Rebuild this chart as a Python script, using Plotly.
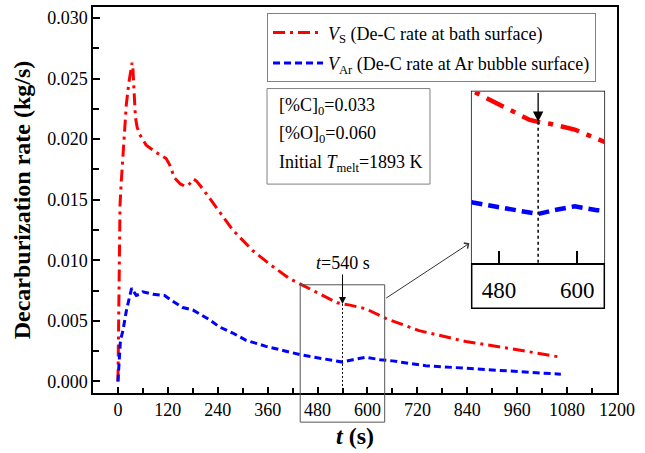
import plotly.graph_objects as go

# Decarburization rate at the bath surface (V_S)
t_s = [0, 1.5, 3, 5, 8, 12, 16, 20, 26, 31, 34, 36, 39, 42, 46, 52, 68, 92, 116, 124,
       136, 150, 162, 172, 182, 190, 208, 240, 276, 324, 364, 412, 440, 480, 510, 527,
       540, 558, 596, 615, 644, 724, 836, 964, 1065]
v_s = [0.0000, 0.0060, 0.0118, 0.0146, 0.0165, 0.0188, 0.0210, 0.0228, 0.0246, 0.0258,
       0.0263, 0.0258, 0.0240, 0.0218, 0.0210, 0.0204, 0.0195, 0.0189, 0.0184, 0.0179,
       0.0168, 0.0163, 0.0161, 0.0163, 0.0167, 0.0165, 0.0157, 0.0142, 0.0125, 0.0108,
       0.0097, 0.0085, 0.0080, 0.0073, 0.0068, 0.0065, 0.0064, 0.0063, 0.0060, 0.0057,
       0.0052, 0.0042, 0.0033, 0.0026, 0.0020]

# Decarburization rate at the Ar bubble surface (V_Ar)
t_ar = [0, 1.5, 3, 6, 12, 20, 28, 33, 38, 44, 52, 60, 84, 112, 128, 156, 180, 196, 220,
        244, 276, 308, 356, 404, 440, 472, 508, 540, 565, 596, 630, 660, 740, 836, 964, 1065]
v_ar = [0.0000, 0.0010, 0.0022, 0.0034, 0.0042, 0.0058, 0.0070, 0.0077, 0.0074, 0.0071,
        0.0072, 0.0074, 0.0072, 0.0071, 0.0067, 0.0061, 0.0059, 0.0056, 0.0051, 0.0045,
        0.0040, 0.0034, 0.0029, 0.0025, 0.0022, 0.0020, 0.0018, 0.0016, 0.0018, 0.0020,
        0.0018, 0.0017, 0.0013, 0.0011, 0.0008, 0.0006]

x_ticks = list(range(0, 1201, 120))
inset_ticks = [480, 600]
t_mark = 540
v_mark = v_s[t_s.index(t_mark)]

XR = [-60, 1200]
YR = [-0.00095, 0.0309]
INSET_XR = [438.2, 641.4]
INSET_YR = [-0.00095, 0.00798]

# Inset placement (paper fractions)
IN_X = [0.7227, 0.9758]
IN_Y_AXIS = [0.3369, 0.781]
IN_BOTTOM = 0.2198

FONT = "Liberation Serif"
RED = "#FF0000"
BLUE = "#0000FF"


def xp(t):
    return (t - XR[0]) / (XR[1] - XR[0])


fig = go.Figure()

fig.add_trace(go.Scatter(
    x=t_s, y=v_s, mode="lines", legendgroup="s",
    name="<i>V</i><sub>S</sub> (De-C rate at bath surface)",
    line=dict(color=RED, width=3, dash="12px,5px,3px,5px"),
))
fig.add_trace(go.Scatter(
    x=t_ar, y=v_ar, mode="lines", legendgroup="ar",
    name="<i>V</i><sub>Ar</sub> (De-C rate at Ar bubble surface)",
    line=dict(color=BLUE, width=3, dash="7px,4px"),
))

# magnified view around t = 540 s
fig.add_trace(go.Scatter(
    x=t_s, y=v_s, mode="lines", xaxis="x2", yaxis="y2", showlegend=False,
    line=dict(color=RED, width=4.5, dash="19px,8px,5px,8px"),
))
fig.add_trace(go.Scatter(
    x=t_ar, y=v_ar, mode="lines", xaxis="x2", yaxis="y2", showlegend=False,
    line=dict(color=BLUE, width=4.5, dash="11px,6px"),
))

axis_common = dict(
    showline=True, linecolor="black", linewidth=1.5, mirror=True,
    showgrid=False, zeroline=False, ticks="inside", tickcolor="black",
    tickwidth=1.5, tickfont=dict(family=FONT, size=18, color="black"),
)

fig.update_layout(
    width=645, height=453,
    margin=dict(l=93, r=28, t=5, b=60),
    paper_bgcolor="white", plot_bgcolor="white",
    font=dict(family=FONT, size=18, color="black"),
    xaxis=dict(
        range=XR, tickvals=x_ticks, ticklen=6,
        minor=dict(dtick=60, tick0=0, ticks="inside", ticklen=5, tickwidth=1.5, tickcolor="black"),
        title=dict(text="<b><i>t</i> (s)</b>", font=dict(family=FONT, size=24), standoff=8),
        **axis_common,
    ),
    yaxis=dict(
        range=YR, tick0=0, dtick=0.005, tickformat=".3f", ticklen=7,
        minor=dict(dtick=0.0025, tick0=0, ticks="inside", ticklen=6, tickwidth=1.5, tickcolor="black"),
        title=dict(text="<b>Decarburization rate (kg/s)</b>", font=dict(family=FONT, size=24), standoff=10),
        **axis_common,
    ),
    xaxis2=dict(
        domain=IN_X, anchor="y2", range=INSET_XR, tickvals=inset_ticks,
        showline=True, linecolor="black", linewidth=1.5, mirror=False,
        showgrid=False, zeroline=False, ticks="inside", ticklen=12, tickwidth=1.5,
        tickcolor="black", tickfont=dict(family=FONT, size=23, color="black"),
        ticklabelstandoff=6,
    ),
    yaxis2=dict(
        domain=IN_Y_AXIS, anchor="x2", range=INSET_YR, visible=False,
    ),
    legend=dict(
        x=0.3321, y=0.9835, xanchor="left", yanchor="top",
        bordercolor="#808080", borderwidth=1, bgcolor="white",
        itemwidth=50, tracegroupgap=4,
        font=dict(family=FONT, size=18, color="black"),
    ),
)

shapes = [
    # inset frame
    dict(type="rect", xref="paper", yref="paper", x0=IN_X[0], x1=IN_X[1],
         y0=IN_BOTTOM, y1=IN_Y_AXIS[1], line=dict(color="black", width=1.5),
         fillcolor="white", layer="below"),
    # zoom window on the main axes
    dict(type="rect", xref="paper", yref="paper",
         x0=xp(INSET_XR[0]), x1=xp(INSET_XR[1]),
         y0=-0.0755, y1=(INSET_YR[1] - YR[0]) / (YR[1] - YR[0]),
         line=dict(color="#555555", width=1)),
    # initial conditions box
    dict(type="rect", xref="paper", yref="paper", x0=0.3321, x1=0.6431,
         y0=0.5412, y1=0.7887, line=dict(color="#808080", width=1)),
    # t = 540 s marker lines
    dict(type="line", xref="x", yref="y", x0=t_mark, x1=t_mark, y0=v_mark, y1=YR[0],
         line=dict(color="black", width=1, dash="2px,2px")),
    dict(type="line", xref="x2", yref="y2", x0=t_mark, x1=t_mark, y0=v_mark, y1=INSET_YR[0],
         line=dict(color="black", width=1.5, dash="3px,3px")),
]
fig.update_layout(shapes=shapes)

info_lines = [
    "[%C]<sub>0</sub>=0.033",
    "[%O]<sub>0</sub>=0.060",
    "Initial <i>T</i><sub>melt</sub>=1893 K",
]
info_y = [0.7423, 0.6701, 0.5954]

annotations = [
    dict(text="<i>t</i>=540 s", x=t_mark, y=v_mark, xref="x", yref="y",
         showarrow=True, ax=0, ay=-41, arrowhead=2, arrowsize=1.4, arrowwidth=1,
         arrowcolor="black", standoff=0, font=dict(family=FONT, size=18)),
    dict(text="", x=t_mark, y=v_mark, xref="x2", yref="y2",
         axref="x2", ayref="y2", ax=t_mark, ay=INSET_YR[1],
         showarrow=True, arrowhead=2, arrowsize=1.6, arrowwidth=1.3,
         arrowcolor="black", standoff=0),
    dict(text="", x=845, y=0.0114, xref="x", yref="y",
         axref="x", ayref="y", ax=INSET_XR[1], ay=0.0068,
         showarrow=True, arrowhead=4, arrowsize=1.3, arrowwidth=1,
         arrowcolor="#333333", standoff=0),
]
for txt, yy in zip(info_lines, info_y):
    annotations.append(dict(text=txt, x=0.3506, y=yy, xref="paper", yref="paper",
                            xanchor="left", yanchor="middle", showarrow=False,
                            font=dict(family=FONT, size=18)))
fig.update_layout(annotations=annotations)

fig.write_html("out.html")
